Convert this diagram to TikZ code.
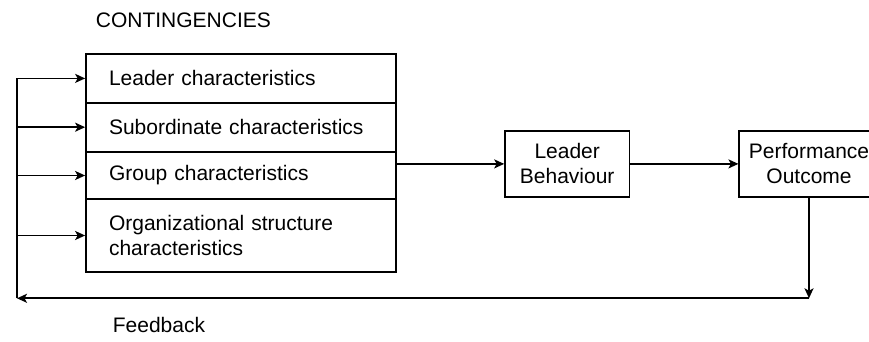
\documentclass[tikz,border=0pt]{standalone}
\usepackage{fontspec}
\setmainfont{Liberation Sans}
\usetikzlibrary{arrows.meta}

\begin{document}
\begin{tikzpicture}[x=1pt, y=1pt, line width=1.7pt,
  every node/.style={font=\fontsize{21}{25}\selectfont},
  charbox/.style={draw, rectangle, minimum width=310pt, text width=264pt, align=left, inner xsep=23pt},
  blockbox/.style={draw, rectangle, align=center},
  >={Stealth[length=10pt, width=9pt, inset=2.5pt]}]
\useasboundingbox (0,0) rectangle (869,342);
\node [charbox, minimum height=48.7pt] (leader) at (241,263.6) {Leader characteristics};
\node [charbox, minimum height=49pt] (sub) at (241,214.8) {Subordinate characteristics};
\node [charbox, minimum height=47.6pt] (group) at (241,166.5) {Group characteristics};
\node [charbox, minimum height=72.4pt] (org) at (241,106.5) {Organizational structure\\characteristics};
\node [blockbox, minimum width=124.3pt, minimum height=65.7pt] (behav) at (567.2,178.1) {Leader\\Behaviour};
\node [blockbox, minimum width=139.4pt, minimum height=65.7pt] (perf) at (809,178.1) {Performance\\Outcome};
\node [anchor=west, inner sep=0pt] (contlabel) at (95,322) {CONTINGENCIES};
\node [anchor=west, inner sep=0pt] (fblabel) at (112,17) {Feedback};
\coordinate (fb) at (17,43.7);
\draw [->] (behav.west -| group.east) -- (behav.west);
\draw [->] (behav) -- (perf);
\draw [->] (perf.south) -- (perf.south |- fb);
\draw [->] (perf.south |- fb) -- (fb);
\draw (fb) -- (fb |- leader.west);
\foreach \b in {leader, sub, group, org}
  \draw [->] (fb |- \b.west) -- (\b.west);
\end{tikzpicture}
\end{document}
